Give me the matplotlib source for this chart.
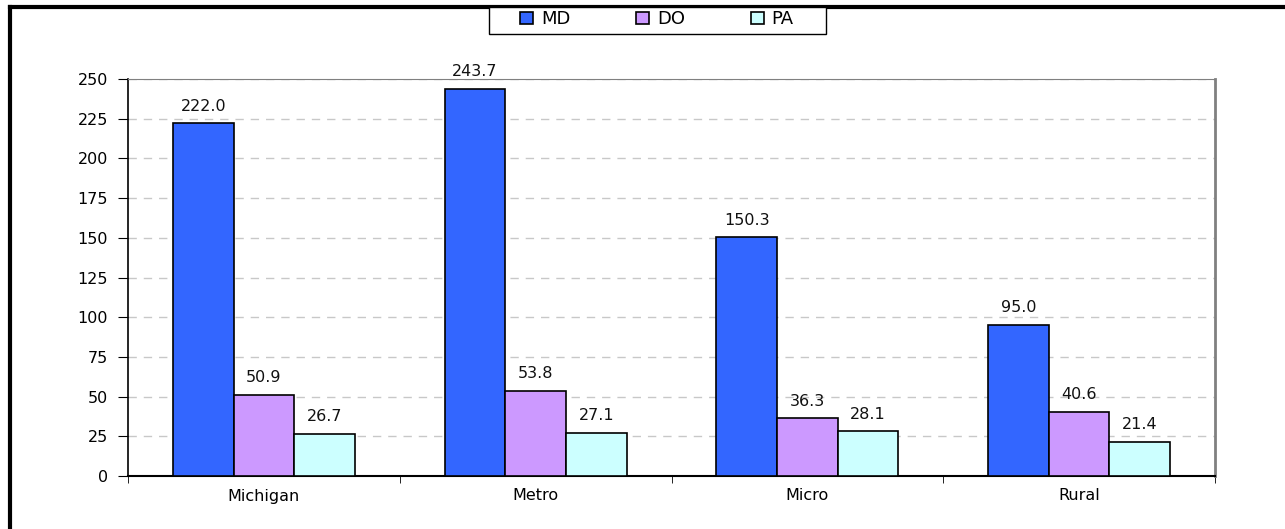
import matplotlib.pyplot as plt
import numpy as np
from matplotlib.lines import Line2D
from matplotlib.patches import Rectangle

categories = ["Michigan", "Metro", "Micro", "Rural"]
series_names = ["MD", "DO", "PA"]
md_values = [222.0, 243.7, 150.3, 95.0]
do_values = [50.9, 53.8, 36.3, 40.6]
pa_values = [26.7, 27.1, 28.1, 21.4]
y_ticks = [0, 25, 50, 75, 100, 125, 150, 175, 200, 225, 250]


def main():
    plt.rcParams['font.family'] = ['DejaVu Sans']
    fig = plt.figure(figsize=(12.85, 5.29), dpi=100)
    ax = fig.add_axes([128 / 1285, 53 / 529, 1087 / 1285, 397 / 529])

    # outer chart frame (top and left edges only)
    fig.add_artist(Line2D([9.5 / 1285, 1.0], [1 - 7 / 529, 1 - 7 / 529],
                          transform=fig.transFigure, color='black', lw=3))
    fig.add_artist(Line2D([9.5 / 1285, 9.5 / 1285], [0, 1 - 7 / 529],
                          transform=fig.transFigure, color='black', lw=3))

    colors = ['#3366FF', '#CC99FF', '#CCFFFF']
    values = [md_values, do_values, pa_values]
    x = np.arange(len(categories))
    width = 0.223
    bars = []
    for i, (vals, col) in enumerate(zip(values, colors)):
        pos = x + (i - 1) * width
        b = ax.bar(pos, vals, width, color=col, edgecolor='black',
                   linewidth=1.2, zorder=3, label=series_names[i])
        bars.append(b)
        for px, v in zip(pos, vals):
            ax.annotate(f"{v:.1f}", (px, v), xytext=(0, 7),
                        textcoords='offset points', ha='center',
                        va='bottom', fontsize=11.5, color='#111111')

    ax.set_xlim(-0.5, len(categories) - 0.5)
    ax.set_ylim(0, 250)
    ax.set_yticks(y_ticks)
    ax.set_yticklabels([str(t) for t in y_ticks], fontsize=11.5)
    ax.set_xticks(x)
    ax.set_xticklabels(categories, fontsize=11.5)
    ax.tick_params(axis='x', which='major', length=0, pad=9)
    ax.set_xticks(np.arange(-0.5, len(categories), 1.0), minor=True)
    ax.tick_params(axis='x', which='minor', length=5, direction='out')
    ax.tick_params(axis='y', length=7, direction='out', pad=7.5)

    ax.grid(axis='y', color='#C8C8C8', linestyle=(0, (6, 5)), lw=1, zorder=0)
    ax.spines['left'].set_color('black')
    ax.spines['bottom'].set_color('black')
    ax.spines['left'].set_linewidth(1.2)
    ax.spines['bottom'].set_linewidth(1.5)
    ax.spines['top'].set_color('#808080')
    ax.spines['right'].set_color('#808080')
    ax.spines['right'].set_linewidth(2)

    # legend box drawn separately so its padding can be wider than the entries
    fig.add_artist(Rectangle((489 / 1285, 1 - 34 / 529), 337 / 1285, 27 / 529,
                             transform=fig.transFigure, facecolor='white',
                             edgecolor='black', lw=1, zorder=5))
    leg = fig.legend(handles=bars, labels=series_names, loc='center',
                     bbox_to_anchor=(657 / 1285, 1 - 19.5 / 529),
                     ncol=3, frameon=False, fontsize=13,
                     handlelength=0.7, handleheight=0.6,
                     handletextpad=0.45, columnspacing=3.65,
                     borderpad=0, borderaxespad=0)
    leg.set_zorder(6)

    plt.savefig('out.png', dpi=100)


if __name__ == '__main__':
    main()
